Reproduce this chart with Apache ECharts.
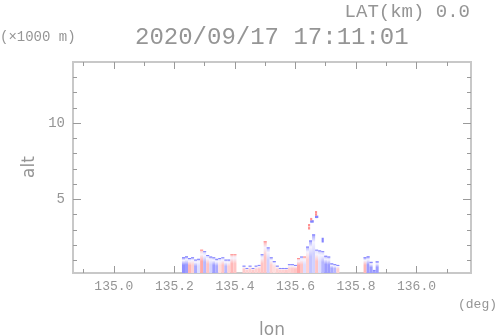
<!DOCTYPE html>
<html>
<head>
<meta charset="utf-8">
<script src="https://cdn.jsdelivr.net/npm/echarts@6/dist/echarts.min.js"></script>
<style>
  html, body { margin: 0; padding: 0; background: #fff; }
  #chart { width: 498px; height: 336px; }
</style>
</head>
<body>
<div id="chart"></div>
<script>
// echo columns along lon: top altitude (x1000 m) and velocity (-1 blue .. +1 red) at bottom / top
const colLon = [
  135.23, 135.24, 135.25, 135.26, 135.27, 135.28, 135.29, 135.30, 135.31, 135.32,
  135.33, 135.34, 135.35, 135.36, 135.37, 135.38, 135.39, 135.40,
  135.43, 135.44, 135.45, 135.46, 135.47, 135.48, 135.49, 135.50, 135.51, 135.52,
  135.53, 135.54, 135.55, 135.56, 135.57, 135.58, 135.59, 135.60, 135.61, 135.62,
  135.63, 135.64, 135.65, 135.66, 135.67, 135.68, 135.69, 135.70, 135.71, 135.72,
  135.73, 135.74,
  135.83, 135.84, 135.85, 135.86, 135.87
];
const colTop = [
  1.2, 1.26, 1.15, 1.2, 1.05, 1.1, 1.7, 1.6, 1.35, 1.25,
  1.2, 1.1, 1.15, 1.2, 1.05, 1.05, 1.4, 1.4,
  0.65, 0.5, 0.65, 0.5, 0.65, 0.7, 1.4, 2.25, 1.85, 1.2,
  0.95, 0.65, 0.5, 0.5, 0.5, 0.75, 0.75, 0.7, 1.15, 1.25,
  1.25, 1.9, 2.3, 2.7, 1.7, 1.65, 1.6, 1.3, 1.25, 0.8,
  0.75, 0.7,
  1.2, 1.26, 0.9, 0.37, 0.93
];
const velLow = [
  -0.8, -0.7, 0.5, 0.3, -0.6, -0.2, 0.6, -0.5, 0.4, -0.3,
  -0.7, -0.6, 0.2, 0.4, -0.5, 0.3, 0.5, 0.4,
  0.35, 0.3, 0.3, 0.35, 0.3, 0.35, 0.4, 0.4, -0.3, 0.3,
  0.2, 0.3, 0.3, 0.3, 0.35, 0.3, 0.35, 0.4, 0.6, 0.4,
  -0.2, 0.3, -0.4, -0.3, 0.4, -0.2, -0.5, -0.7, -0.7, -0.6,
  -0.5, 0.3,
  0.5, -0.7, -0.7, -0.7, -0.7
];
const velHigh = [
  -0.7, -0.6, -0.4, -0.5, -0.3, -0.5, 0.4, -0.3, -0.4, -0.5,
  -0.4, -0.5, -0.4, -0.3, -0.3, -0.4, 0.4, 0.3,
  -0.5, -0.5, -0.4, -0.5, -0.4, -0.3, -0.4, 0.6, -0.5, -0.5,
  -0.6, -0.5, -0.5, -0.5, -0.5, -0.4, -0.4, -0.3, 0.5, -0.3,
  0.3, -0.6, -0.7, -0.7, -0.2, -0.4, -0.3, -0.6, -0.5, -0.6,
  -0.4, -0.3,
  -0.7, -0.7, -0.6, -0.7, -0.7
];

// isolated echoes aloft: [lon, alt, velocity]
const dots = [
  [135.645, 3.1, 0.7], [135.645, 3.3, 0.7], [135.652, 3.55, -0.7], [135.657, 3.55, -0.7],
  [135.652, 3.7, 0.7], [135.668, 3.85, -0.7], [135.672, 3.85, -0.7], [135.668, 4.0, 0.7],
  [135.668, 4.15, 0.6], [135.69, 2.25, -0.7], [135.69, 2.4, -0.7]
];

const lonMajor = [135.0, 135.2, 135.4, 135.6, 135.8, 136.0];
const lonMinor = [134.9, 135.1, 135.3, 135.5, 135.7, 135.9, 136.1];
const altMajor = [5, 10];
const altMinor = [1, 2, 3, 4, 6, 7, 8, 9, 11, 12, 13];
const lonMin = 134.865, lonMax = 136.18;
const altMin = 0.17, altMax = 14.0;

const velColor = (v) => {
  const a = Math.min(1, Math.abs(v));
  let r = 246, g = 244, b = 255;
  if (v > 0) { r = 255; g = 248 - 130 * a; b = 248 - 130 * a; }
  if (v < 0) { r = 248 - 130 * a; g = 248 - 130 * a; b = 255; }
  return "rgb(" + Math.round(r) + "," + Math.round(g) + "," + Math.round(b) + ")";
};

const colData = colLon.map((x, i) => [x, colTop[i], velLow[i], velHigh[i]]);

const chart = echarts.init(document.getElementById("chart"));
const mono = "Liberation Mono";
const sans = "DejaVu Sans";
const tickCol = "#9a9a9a";
const txt = "#959595";

const xAx = (pos, vals, len, label) => ({
  type: "value", position: pos, min: lonMin, max: lonMax,
  axisLine: { show: false }, splitLine: { show: false },
  axisTick: { show: true, inside: true, length: len, customValues: vals, lineStyle: { color: tickCol } },
  axisLabel: label
    ? { show: true, customValues: vals, margin: 7, color: txt, fontFamily: mono, fontSize: 13,
        formatter: (v) => v.toFixed(1) }
    : { show: false }
});
const yAx = (pos, vals, len, label) => ({
  type: "value", position: pos, min: altMin, max: altMax,
  axisLine: { show: false }, splitLine: { show: false },
  axisTick: { show: true, inside: true, length: len, customValues: vals, lineStyle: { color: tickCol } },
  axisLabel: label
    ? { show: true, customValues: vals, margin: 8, color: txt, fontFamily: mono, fontSize: 14 }
    : { show: false }
});

const option = {
  animation: false,
  grid: { left: 73, right: 27, top: 62, bottom: 63, show: true, borderColor: "#c8c8c8", borderWidth: 2, backgroundColor: "transparent" },
  xAxis: [
    xAx("bottom", lonMajor, 7, true),
    xAx("bottom", lonMinor, 4, false),
    xAx("top", lonMajor, 7, false),
    xAx("top", lonMinor, 4, false)
  ],
  yAxis: [
    yAx("left", altMajor, 8, true),
    yAx("left", altMinor, 4, false),
    yAx("right", altMajor, 8, false),
    yAx("right", altMinor, 4, false)
  ],
  graphic: [
    { type: "text", left: 135, top: 26, style: { text: "2020/09/17 17:11:01", fill: txt, font: "24px '" + mono + "'" } },
    { type: "text", right: 28, top: 2, style: { text: "LAT(km) 0.0", fill: txt, font: "19px '" + mono + "'" } },
    { type: "text", left: 0, top: 30, style: { text: "(×1000 m)", fill: txt, font: "14px '" + mono + "'" } },
    { type: "text", right: 1, top: 298, style: { text: "(deg)", fill: txt, font: "13px '" + mono + "'" } },
    { type: "text", x: 272, y: 339, style: { text: "lon", fill: txt, font: "17px '" + sans + "'", align: "center", verticalAlign: "bottom" } },
    { type: "text", x: 30, y: 167, rotation: Math.PI / 2, style: { text: "alt", fill: txt, font: "17px '" + sans + "'", align: "center", verticalAlign: "middle" } }
  ],
  series: [
    {
      type: "custom",
      xAxisIndex: 0, yAxisIndex: 0,
      clip: true,
      data: colData,
      renderItem: (params, api) => {
        const x = api.value(0), top = api.value(1);
        const p0 = api.coord([x - 0.005, altMin]);
        const p1 = api.coord([x + 0.005, top]);
        const w = p1[0] - p0[0], h = p0[1] - p1[1];
        const lo = velColor(api.value(2)), hi = velColor(api.value(3));
        const edge = velColor(api.value(3) < 0 ? -0.9 : 0.8);
        return {
          type: "group",
          children: [
            {
              type: "rect",
              shape: { x: p0[0], y: p1[1], width: w, height: h },
              style: { fill: new echarts.graphic.LinearGradient(0, 1, 0, 0, [
                { offset: 0, color: lo }, { offset: 0.5, color: lo }, { offset: 0.8, color: velColor(0) }, { offset: 1, color: hi }
              ]) }
            },
            { type: "rect", shape: { x: p0[0], y: p1[1], width: w, height: 1 }, style: { fill: edge } }
          ]
        };
      }
    },
    {
      type: "custom",
      xAxisIndex: 0, yAxisIndex: 0,
      clip: true,
      data: dots,
      renderItem: (params, api) => {
        const p0 = api.coord([api.value(0) - 0.0035, api.value(1) - 0.08]);
        const p1 = api.coord([api.value(0) + 0.0035, api.value(1) + 0.08]);
        return {
          type: "rect",
          shape: { x: p0[0], y: p1[1], width: p1[0] - p0[0], height: p0[1] - p1[1] },
          style: { fill: velColor(api.value(2) > 0 ? 0.8 : -0.9) }
        };
      }
    }
  ]
};
chart.setOption(option);
</script>
</body>
</html>
